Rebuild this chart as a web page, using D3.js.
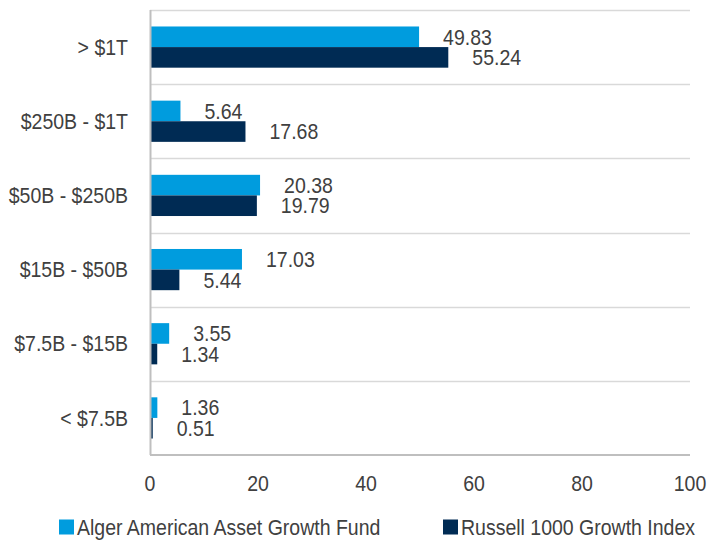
<!DOCTYPE html>
<html>
<head>
<meta charset="utf-8">
<script src="https://cdn.jsdelivr.net/npm/d3@7"></script>
<style>
  body { margin: 0; background: #fff; }
  text { font-family: "Liberation Sans", Arial, sans-serif; fill: #404040; }
</style>
</head>
<body>
<div id="chart"></div>
<script>
const categories = ['> $1T', '$250B - $1T', '$50B - $250B', '$15B - $50B', '$7.5B - $15B', '< $7.5B'];
const seriesNames = ['Alger American Asset Growth Fund', 'Russell 1000 Growth Index'];
const fundValues = [49.83, 5.64, 20.38, 17.03, 3.55, 1.36];
const indexValues = [55.24, 17.68, 19.79, 5.44, 1.34, 0.51];
const xTicks = [0, 20, 40, 60, 80, 100];
const colors = ['#009cde', '#002b54'];

const width = 709, height = 541;
const margin = {left: 150, top: 10, right: 19, bottom: 86};
const w = width - margin.left - margin.right;
const h = height - margin.top - margin.bottom;
const fontSize = 19.5, stretch = 1.13;

const svg = d3.select('#chart').append('svg')
    .attr('width', width)
    .attr('height', height);
const g = svg.append('g')
    .attr('transform', `translate(${margin.left}, ${margin.top})`);

// text is a bit taller than wide in the original, so stretch it vertically
function label(sel, xf, yf) {
    return sel.append('text')
        .attr('transform', (d, i) => `translate(${xf(d, i)}, ${yf(d, i)}) scale(1, ${stretch})`)
        .attr('dy', '0.35em')
        .attr('font-size', fontSize);
}

const x = d3.scaleLinear().domain([0, 100]).range([0, w]);
const y = d3.scaleBand().domain(categories).range([0, h]);
const inner = d3.scaleBand().domain([0, 1]).range([0, y.bandwidth()]).paddingOuter(0.8).paddingInner(0);

// horizontal gridlines between categories
const bounds = categories.map(c => y(c));
g.selectAll('.grid')
    .data(bounds)
    .enter().append('line')
    .attr('x1', 0).attr('x2', w)
    .attr('y1', d => Math.round(d) + 0.5).attr('y2', d => Math.round(d) + 0.5)
    .attr('stroke', '#d9d9d9').attr('stroke-width', 1.5);

const rows = categories.map((c, i) => ({cat: c, vals: [fundValues[i], indexValues[i]]}));
const groups = g.selectAll('.cat')
    .data(rows)
    .enter().append('g')
    .attr('transform', d => `translate(0, ${y(d.cat)})`);

groups.selectAll('rect')
    .data(d => d.vals)
    .enter().append('rect')
    .attr('x', 0)
    .attr('y', (d, i) => inner(i))
    .attr('width', d => x(d))
    .attr('height', inner.bandwidth())
    .attr('fill', (d, i) => colors[i]);

label(groups.selectAll('.val').data(d => d.vals).enter(),
      d => x(d) + 24,
      (d, i) => inner(i) + inner.bandwidth() / 2)
    .text(d => d.toFixed(2));

// axes lines
g.append('line')
    .attr('x1', 0.5).attr('x2', 0.5).attr('y1', 0).attr('y2', h)
    .attr('stroke', '#bfbfbf').attr('stroke-width', 2);
g.append('line')
    .attr('x1', 0).attr('x2', w).attr('y1', h).attr('y2', h)
    .attr('stroke', '#bfbfbf').attr('stroke-width', 2);

// category labels
label(g.selectAll('.cl').data(categories).enter(),
      () => -22,
      d => y(d) + y.bandwidth() / 2)
    .attr('text-anchor', 'end')
    .text(d => d);

// x tick labels
label(g.selectAll('.xl').data(xTicks).enter(),
      d => x(d),
      () => h + 28)
    .attr('text-anchor', 'middle')
    .text(d => d);

// legend
const legendX = [59, 443];
const legend = svg.selectAll('.lg')
    .data(seriesNames)
    .enter().append('g')
    .attr('transform', (d, i) => `translate(${legendX[i]}, 527)`);
legend.append('rect')
    .attr('x', 0).attr('y', -7.5)
    .attr('width', 15).attr('height', 15)
    .attr('fill', (d, i) => colors[i]);
label(legend, () => 18, () => 0)
    .text(d => d);
</script>
</body>
</html>
